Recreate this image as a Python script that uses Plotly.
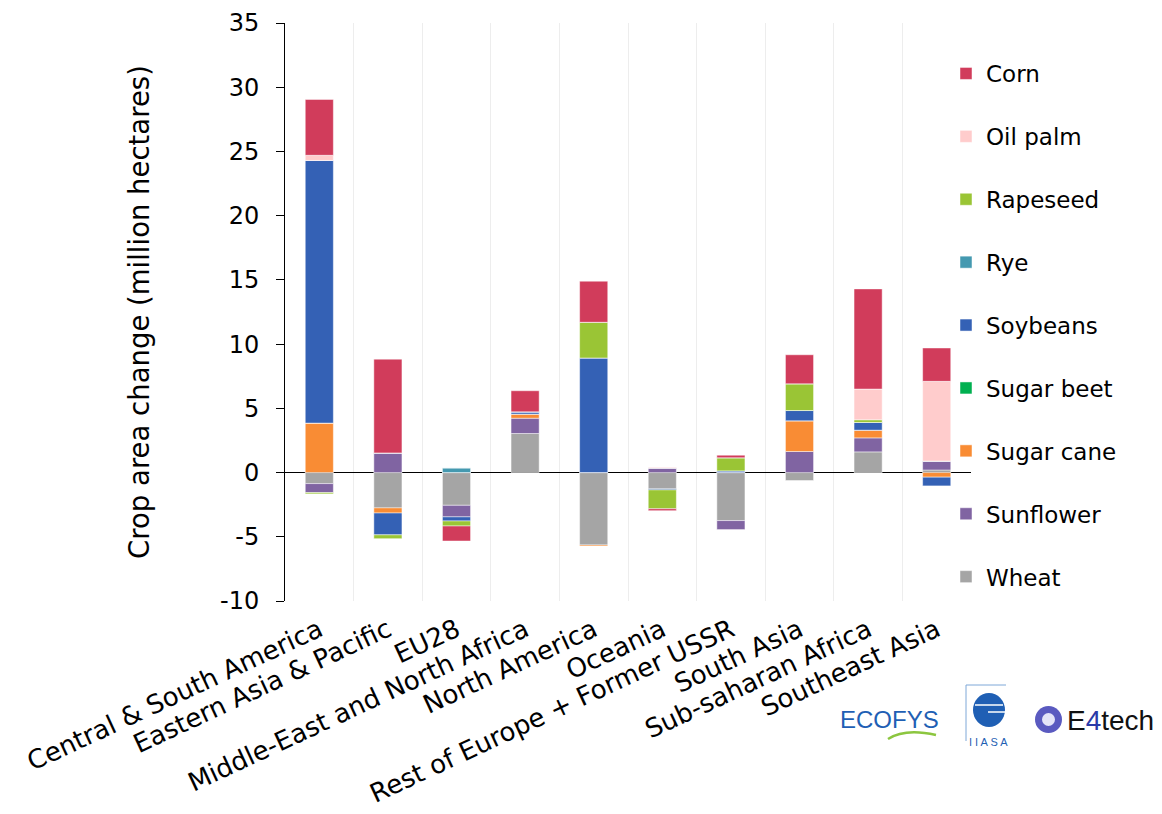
import plotly.graph_objects as go

regions = ["Central & South America", "Eastern Asia & Pacific", "EU28",
           "Middle-East and North Africa", "North America", "Oceania",
           "Rest of Europe + Former USSR", "South Asia", "Sub-saharan Africa",
           "Southeast Asia"]

# values in million hectares, per crop, per region
wheat      = [-0.86, -2.75, -2.55, 3.04, -5.64, -1.27, -3.74, -0.62, 1.61, 0.20]
sunflower  = [-0.70, 1.53, -0.90, 1.19, 0.00, 0.36, -0.70, 1.64, 1.09, 0.70]
sugar_cane = [3.85, -0.40, 0.00, 0.32, -0.08, 0.00, 0.00, 2.39, 0.60, -0.36]
sugar_beet = [0.00, 0.00, 0.00, 0.00, 0.00, 0.00, 0.00, 0.00, 0.00, 0.00]
soybeans   = [20.45, -1.70, -0.32, 0.18, 8.92, -0.08, 0.13, 0.80, 0.60, -0.68]
rye        = [0.00, 0.00, 0.36, 0.00, 0.00, 0.00, 0.00, 0.00, 0.00, 0.00]
rapeseed   = [-0.10, -0.30, -0.39, 0.00, 2.78, -1.47, 1.02, 2.08, 0.21, 0.00]
oil_palm   = [0.40, 0.00, 0.00, 0.00, 0.00, 0.05, 0.00, 0.00, 2.39, 6.20]
corn       = [4.35, 7.30, -1.17, 1.64, 3.20, -0.15, 0.20, 2.26, 7.80, 2.60]

# stacking order (bottom first); legend shows them top-down in reverse
series = [
    ("Wheat", wheat, "#A5A5A5"),
    ("Sunflower", sunflower, "#8064A2"),
    ("Sugar cane", sugar_cane, "#F98C34"),
    ("Sugar beet", sugar_beet, "#00B050"),
    ("Soybeans", soybeans, "#3461B5"),
    ("Rye", rye, "#4499B0"),
    ("Rapeseed", rapeseed, "#9AC535"),
    ("Oil palm", oil_palm, "#FFCCCC"),
    ("Corn", corn, "#D13C5B"),
]

y_ticks = list(range(-10, 40, 5))

FONT = "DejaVu Sans"


def px(x):  # reference pixel x -> paper x
    return (x - 285) / 686


def py(y):  # reference pixel y -> paper y
    return (601 - y) / 578


fig = go.Figure()
for i, (name, vals, color) in enumerate(series):
    fig.add_trace(go.Bar(
        x=regions, y=vals, name=name, legendgroup=name,
        legendrank=len(series) - i,
        marker=dict(color=color, line=dict(color="rgba(255,255,255,0.6)", width=0.8)),
    ))

fig.update_layout(
    width=1154, height=806,
    barmode="relative", bargap=0.59,
    plot_bgcolor="white", paper_bgcolor="white",
    font=dict(family=FONT, size=20, color="black"),
    margin=dict(l=277, r=191, t=15, b=213),
    legend=dict(
        traceorder="grouped", tracegroupgap=30,
        x=px(946), xanchor="left", y=py(52), yanchor="top",
        font=dict(family=FONT, size=23),
        bgcolor="rgba(0,0,0,0)",
    ),
    xaxis=dict(
        type="category", tickangle=-25, tickson="boundaries",
        showgrid=True, gridcolor="#EDEDED", gridwidth=1,
        showline=False, ticks="", tickfont=dict(size=26),
        ticklabelstandoff=8, automargin=False,
    ),
    yaxis=dict(
        range=[-10, 35], tickvals=y_ticks, ticktext=[str(v) for v in y_ticks],
        showgrid=False, showline=True, linecolor="black", linewidth=1,
        ticks="outside", ticklen=8, tickcolor="black", ticklabelstandoff=12,
        zeroline=True, zerolinecolor="black", zerolinewidth=1,
        tickfont=dict(size=24), automargin=False,
        title=dict(text="Crop area change (million hectares)", font=dict(size=27.5), standoff=62),
    ),
    showlegend=True,
)

# ---- partner logos (decoration) ----
def note(x, y, text, font):
    fig.add_annotation(xref="paper", yref="paper", x=px(x), y=py(y), text=text,
                       showarrow=False, xanchor="center", yanchor="middle", font=font)


# ECOFYS
note(889, 719, "ECOFYS", dict(family="Liberation Sans", size=24, color="#1F5FB4"))
fig.add_shape(type="path", xref="paper", yref="paper",
              path=f"M {px(888)},{py(739)} Q {px(905)},{py(728)} {px(936)},{py(735)}",
              line=dict(color="#8CC63F", width=2.5))
# IIASA
fig.add_shape(type="line", xref="paper", yref="paper",
              x0=px(966), x1=px(966), y0=py(685), y1=py(741), line=dict(color="#7FA8D8", width=1))
fig.add_shape(type="line", xref="paper", yref="paper",
              x0=px(966), x1=px(1006), y0=py(685), y1=py(685), line=dict(color="#7FA8D8", width=1))
fig.add_shape(type="circle", xref="paper", yref="paper",
              x0=px(973), x1=px(1005), y0=py(693), y1=py(727),
              fillcolor="#1F5FB4", line=dict(width=0))
fig.add_shape(type="line", xref="paper", yref="paper",
              x0=px(975), x1=px(1003), y0=py(705), y1=py(705), line=dict(color="white", width=1.5))
fig.add_shape(type="line", xref="paper", yref="paper",
              x0=px(988), x1=px(1005), y0=py(712), y1=py(712), line=dict(color="white", width=1.5))
note(988, 742, "I I A S A", dict(family="Liberation Sans", size=11, color="#1F5FB4"))
# E4tech
fig.add_shape(type="circle", xref="paper", yref="paper",
              x0=px(1035), x1=px(1062), y0=py(706), y1=py(733),
              fillcolor="#5A5AC0", line=dict(width=0))
fig.add_shape(type="circle", xref="paper", yref="paper",
              x0=px(1042), x1=px(1055), y0=py(713), y1=py(726),
              fillcolor="#E4E4F8", line=dict(width=0))
note(1110, 720, "E<span style='color:#2A3AA8'>4</span>tech",
     dict(family="Liberation Sans", size=28, color="#111111"))

fig.write_html("out.html")
